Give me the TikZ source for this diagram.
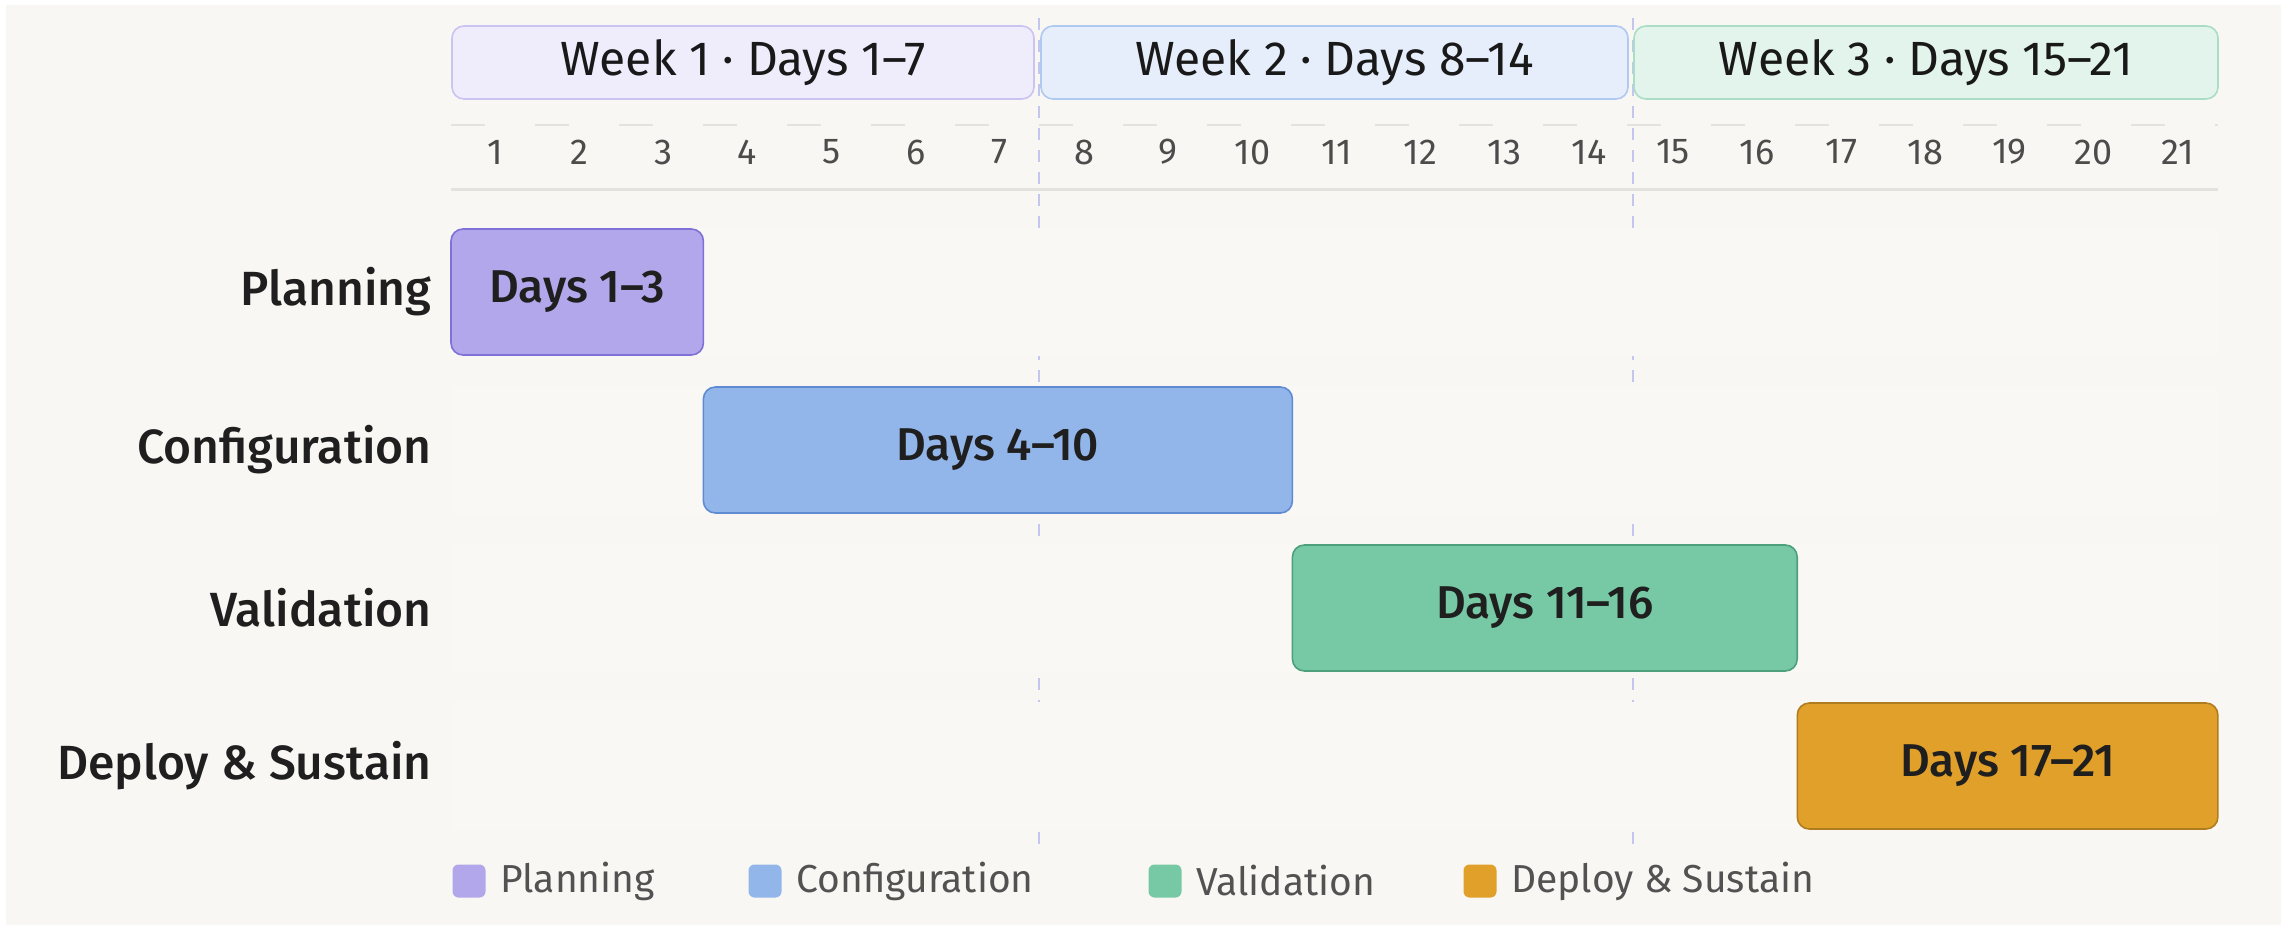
\documentclass[tikz,border=0pt]{standalone}
\usepackage{fontspec}
\setmainfont{Fira Sans}[BoldFont={Fira Sans Medium}]
\usepackage{tikz}
\usepackage{xcolor}
\usetikzlibrary{positioning}

\definecolor{pagebg}{HTML}{F8F7F3}
\definecolor{rowbg}{HTML}{F9F8F5}
\definecolor{planfill}{HTML}{B1A7EA}
\definecolor{planline}{HTML}{7F71D8}
\definecolor{conffill}{HTML}{93B6EA}
\definecolor{confline}{HTML}{5F8BD3}
\definecolor{valfill}{HTML}{76C9A4}
\definecolor{valline}{HTML}{4E9F7C}
\definecolor{depfill}{HTML}{E0A02A}
\definecolor{depline}{HTML}{AF7D1E}
\definecolor{wkonefill}{HTML}{EFEDFC}
\definecolor{wkoneline}{HTML}{CBC4F3}
\definecolor{wktwofill}{HTML}{E6EEFB}
\definecolor{wktwoline}{HTML}{B0C9F1}
\definecolor{wkthreefill}{HTML}{E3F4EC}
\definecolor{wkthreeline}{HTML}{A9DDC5}
\definecolor{gridline}{HTML}{E4E2DD}
\definecolor{divline}{HTML}{C3C6EF}

\tikzstyle{bar} = [rectangle, rounded corners=6pt, line width=0.8pt, minimum height=63pt, inner sep=0pt, font=\fontsize{23}{28}\selectfont\bfseries, text=black!88]
\tikzstyle{week} = [rectangle, rounded corners=6pt, line width=0.8pt, minimum height=36.5pt, inner sep=0pt, font=\fontsize{24}{29}\selectfont, text=black!90]
\tikzstyle{rowlabel} = [anchor=east, inner sep=0pt, font=\fontsize{24}{29}\selectfont\bfseries, text=black!88]
\tikzstyle{daynum} = [inner sep=0pt, font=\fontsize{18}{22}\selectfont, text=black!70]
\tikzstyle{swatch} = [rectangle, rounded corners=3pt, minimum size=16.5pt, inner sep=0pt]
\tikzstyle{legtext} = [anchor=west, inner sep=0pt, font=\fontsize{19.5}{24}\selectfont, text=black!68]

\begin{document}
\begin{tikzpicture}[x=0.5pt,y=-0.5pt]
  \useasboundingbox (0,0) rectangle (2281,925);
  \fill[white] (0,0) rectangle (2281,925);
  \fill[pagebg] (6,5) rectangle (2281,925);

  % week dividers, mostly hidden behind the row bands
  \coordinate (divA top) at (1039,18);
  \coordinate (divA bot) at (1039,850);
  \coordinate (divB top) at (1633,18);
  \coordinate (divB bot) at (1633,850);
  \draw[divline, line width=1pt, dash pattern=on 6pt off 5pt] (divA top) -- (divA bot);
  \draw[divline, line width=1pt, dash pattern=on 6pt off 5pt] (divB top) -- (divB bot);

  \foreach \r in {292,450,608,766}
    \fill[rowbg] (451,{\r-64}) rectangle (2218,{\r+64});

  % day axis
  \coordinate (axis top w) at (451,125);
  \coordinate (axis top e) at (2218,125);
  \coordinate (axis bot w) at (451,190);
  \coordinate (axis bot e) at (2218,190);
  \draw[gridline, line width=1pt, dash pattern=on 17pt off 25pt] (axis top w) -- (axis top e);
  \draw[gridline, line width=1.5pt] (axis bot w) -- (axis bot e);
  \foreach \d in {1,...,21}
    \node[daynum] (d\d) at ({451+(\d-0.5)*84.14+2},152) {\d};

  % week headers
  \node[week, fill=wkonefill, draw=wkoneline, minimum width=291pt] (wk1) at (743,62.5) {Week 1 · Days 1–7};
  \node[week, fill=wktwofill, draw=wktwoline, minimum width=293.5pt] (wk2) at (1334.5,62.5) {Week 2 · Days 8–14};
  \node[week, fill=wkthreefill, draw=wkthreeline, minimum width=292pt] (wk3) at (1926,62.5) {Week 3 · Days 15–21};

  % phases
  \node[rowlabel] (lab plan) at (432,292) {Planning};
  \node[rowlabel] (lab conf) at (432,450) {Configuration};
  \node[rowlabel] (lab val) at (432,608) {Validation};
  \node[rowlabel] (lab dep) at (432,766) {Deploy \& Sustain};

  \node[bar, fill=planfill, draw=planline, minimum width=126.2pt] (plan) at (577.2,292) {Days 1–3};
  \node[bar, fill=conffill, draw=confline, minimum width=294.5pt] (conf) at (997.9,450) {Days 4–10};
  \node[bar, fill=valfill, draw=valline, minimum width=252.4pt] (val) at (1544.8,608) {Days 11–16};
  \node[bar, fill=depfill, draw=depline, minimum width=210.3pt] (dep) at (2007.6,766) {Days 17–21};

  % legend
  \node[swatch, fill=planfill] (sw plan) at (469,881) {};
  \node[legtext, right=7pt of sw plan] (lg plan) {Planning};
  \node[swatch, fill=conffill] (sw conf) at (765,881) {};
  \node[legtext, right=7pt of sw conf] (lg conf) {Configuration};
  \node[swatch, fill=valfill] (sw val) at (1165,881) {};
  \node[legtext, right=7pt of sw val] (lg val) {Validation};
  \node[swatch, fill=depfill] (sw dep) at (1480,881) {};
  \node[legtext, right=7pt of sw dep] (lg dep) {Deploy \& Sustain};
\end{tikzpicture}
\end{document}
